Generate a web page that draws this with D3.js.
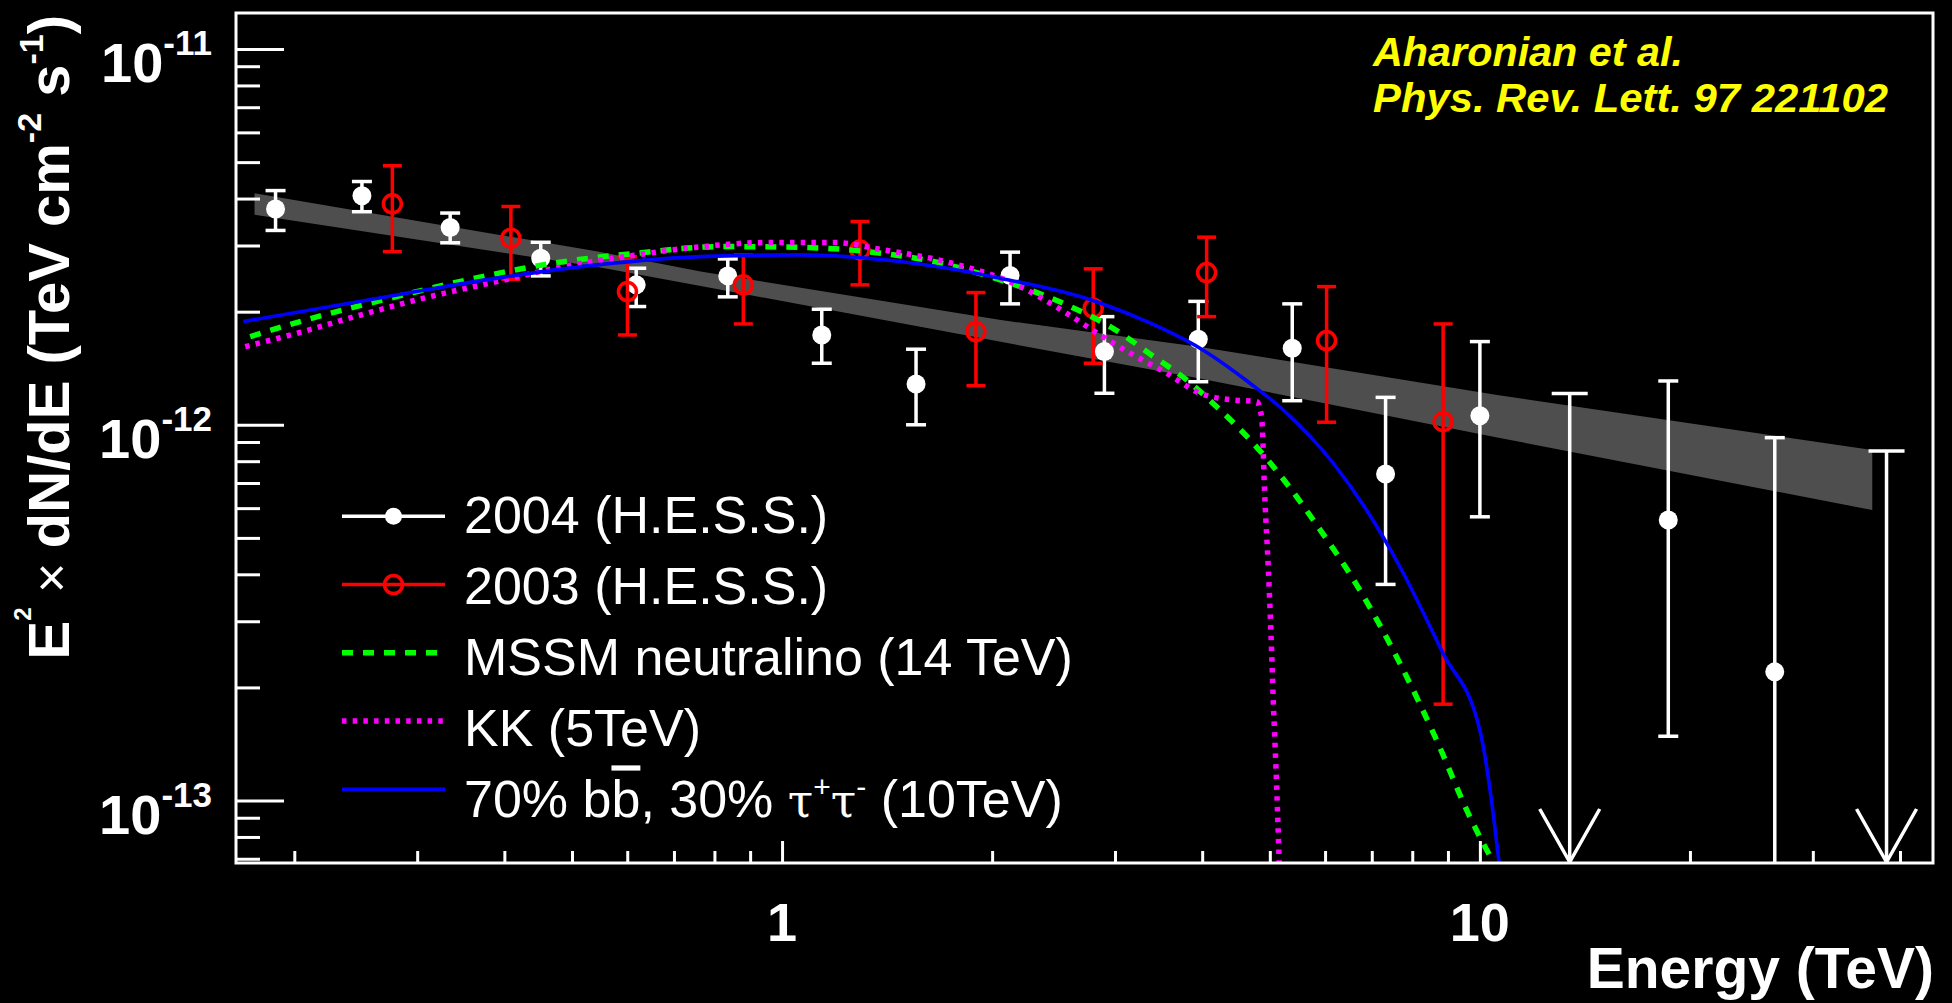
<!DOCTYPE html>
<html>
<head>
<meta charset="utf-8">
<title>Galactic Centre gamma-ray spectrum and dark-matter models</title>
<script src="https://cdn.jsdelivr.net/npm/d3@7/dist/d3.min.js"></script>
<style>
  html, body { margin: 0; padding: 0; background: #000; }
  svg { display: block; }
</style>
</head>
<body>
<svg id="chart" width="1952" height="1003"></svg>
<script>
// ---------- data ----------
// H.E.S.S. 2004: energy (TeV), E^2 dN/dE (TeV cm^-2 s^-1) and error-bar ends
const energy2004 = [0.188, 0.250, 0.3345, 0.451, 0.618, 0.836, 1.14, 1.556, 2.122, 2.897, 3.949, 5.384, 7.326, 10.0, 18.62, 26.46];
const flux2004   = [3.75e-12, 4.07e-12, 3.35e-12, 2.775e-12, 2.357e-12, 2.49e-12, 1.734e-12, 1.284e-12, 2.497e-12, 1.566e-12, 1.689e-12, 1.598e-12, 7.40e-13, 1.057e-12, 5.58e-13, 2.20e-13];
const low2004    = [3.29e-12, 3.69e-12, 3.05e-12, 2.49e-12, 2.064e-12, 2.19e-12, 1.458e-12, 1.00e-12, 2.098e-12, 1.213e-12, 1.302e-12, 1.159e-12, 3.76e-13, 5.69e-13, 1.483e-13, 0];
const high2004   = [4.20e-12, 4.44e-12, 3.66e-12, 3.06e-12, 2.61e-12, 2.763e-12, 2.03e-12, 1.589e-12, 2.88e-12, 1.94e-12, 2.13e-12, 2.098e-12, 1.183e-12, 1.665e-12, 1.308e-12, 9.24e-13];
// H.E.S.S. 2004 upper limits
const ulEnergy2004 = [13.45, 38.26];
const ulFlux2004   = [1.211e-12, 8.51e-13];

// H.E.S.S. 2003
const energy2003 = [0.2764, 0.4087, 0.6004, 0.880, 1.293, 1.896, 2.792, 4.059, 6.03, 8.858];
const flux2003   = [3.873e-12, 3.138e-12, 2.262e-12, 2.357e-12, 2.92e-12, 1.77e-12, 2.043e-12, 2.541e-12, 1.675e-12, 1.019e-12];
const low2003    = [2.89e-12, 2.44e-12, 1.734e-12, 1.855e-12, 2.357e-12, 1.271e-12, 1.458e-12, 1.94e-12, 1.016e-12, 1.805e-13];
const high2003   = [4.89e-12, 3.81e-12, 2.80e-12, 2.83e-12, 3.475e-12, 2.248e-12, 2.60e-12, 3.157e-12, 2.332e-12, 1.855e-12];

// power-law fit band
const bandEnergy = [0.1754, 0.5445, 0.7645, 2.048, 3.952, 10.59, 36.5];
const bandLow    = [3.62e-12, 2.63e-12, 2.342e-12, 1.665e-12, 1.33e-12, 9.25e-13, 5.93e-13];
const bandHigh   = [4.134e-12, 2.89e-12, 2.557e-12, 1.902e-12, 1.614e-12, 1.2e-12, 8.57e-13];

// MSSM neutralino, 14 TeV
const mssmEnergy = [0.1729, 0.2096, 0.2744, 0.3573, 0.4703, 0.6192, 0.815, 1.061, 1.322, 1.647, 2.053, 2.558, 3.017, 3.367, 3.80, 4.196, 4.733, 5.286, 5.77, 6.73, 7.68, 8.67, 9.676, 10.62];
const mssmFlux   = [1.717e-12, 1.91e-12, 2.172e-12, 2.44e-12, 2.692e-12, 2.862e-12, 2.98e-12, 2.966e-12, 2.891e-12, 2.719e-12, 2.43e-12, 2.085e-12, 1.78e-12, 1.543e-12, 1.316e-12, 1.117e-12, 8.93e-13, 6.98e-13, 5.58e-13, 3.63e-13, 2.32e-13, 1.447e-13, 9.04e-14, 6.5e-14];

// Kaluza-Klein particle, 5 TeV
const kkEnergy = [0.1701, 0.2017, 0.2512, 0.3131, 0.3902, 0.4861, 0.6057, 0.7547, 0.9508, 1.184, 1.397, 1.741, 2.169, 2.558, 2.855, 3.187, 3.557, 3.971, 4.433, 4.787, 4.866, 4.920, 4.974, 5.019, 5.057, 5.102, 5.17];
const kkFlux   = [1.614e-12, 1.752e-12, 1.969e-12, 2.194e-12, 2.404e-12, 2.636e-12, 2.815e-12, 2.97e-12, 3.055e-12, 3.055e-12, 2.92e-12, 2.70e-12, 2.357e-12, 1.98e-12, 1.734e-12, 1.534e-12, 1.372e-12, 1.213e-12, 1.164e-12, 1.152e-12, 1.051e-12, 6.30e-13, 4.19e-13, 2.785e-13, 1.85e-13, 1.229e-13, 6.0e-14];

// 70% b-bbar, 30% tau+tau-, 10 TeV
const bbEnergy = [0.1691, 0.2805, 0.3902, 0.5427, 0.7632, 1.061, 1.476, 2.053, 2.855, 3.367, 3.971, 4.683, 5.227, 6.165, 6.88, 7.68, 8.858, 10.0, 10.8];
const bbFlux   = [1.882e-12, 2.216e-12, 2.456e-12, 2.664e-12, 2.803e-12, 2.832e-12, 2.719e-12, 2.456e-12, 2.11e-12, 1.866e-12, 1.598e-12, 1.29e-12, 1.095e-12, 7.90e-13, 5.93e-13, 4.19e-13, 2.462e-13, 1.538e-13, 5.5e-14];

// axis ticks
const xMajorTicks = [1, 10];
const xMinorTicks = [0.2, 0.3, 0.4, 0.5, 0.6, 0.7, 0.8, 0.9, 2, 3, 4, 5, 6, 7, 8, 9, 20, 30, 40];
const xTickLabels = ["1", "10"];
const yMajorTicks = [1e-11, 1e-12, 1e-13];
const yMinorTicks = [7e-14, 8e-14, 9e-14,
  2e-13, 3e-13, 4e-13, 5e-13, 6e-13, 7e-13, 8e-13, 9e-13,
  2e-12, 3e-12, 4e-12, 5e-12, 6e-12, 7e-12, 8e-12, 9e-12];

const legendLabels = ["2004 (H.E.S.S.)", "2003 (H.E.S.S.)", "MSSM neutralino (14 TeV)", "KK (5TeV)"];
const noteLines = ["Aharonian et al.", "Phys. Rev. Lett. 97 221102"];

// ---------- layout ----------
const FONT = "'Liberation Sans', Arial, Helvetica, sans-serif";
const frame = { left: 236, right: 1933, top: 13, bottom: 863 };

const svg = d3.select("#chart");
svg.append("rect").attr("width", 1952).attr("height", 1003).attr("fill", "#000");

const x = d3.scaleLog().domain([0.165, 44.6]).range([frame.left, frame.right]);
const y = d3.scaleLog().domain([6.82e-14, 1.247e-11]).range([frame.bottom, frame.top]);
const yFloor = y.domain()[0];
const yc = v => y(Math.max(v, yFloor * 0.5));

svg.append("clipPath").attr("id", "plotClip")
  .append("rect")
  .attr("x", frame.left).attr("y", frame.top)
  .attr("width", frame.right - frame.left).attr("height", frame.bottom - frame.top);

const plot = svg.append("g").attr("clip-path", "url(#plotClip)");

// fit band
const bandRows = bandEnergy.map((e, i) => ({ e, lo: bandLow[i], hi: bandHigh[i] }));
plot.append("path")
  .datum(bandRows)
  .attr("fill", "#4e4e4e")
  .attr("d", d3.area().x(d => x(d.e)).y0(d => y(d.lo)).y1(d => y(d.hi)));

// ---------- 2004 points ----------
const rows2004 = energy2004.map((e, i) => ({ e, v: flux2004[i], lo: low2004[i], hi: high2004[i] }));
const g04 = plot.append("g").attr("stroke", "#fff").attr("stroke-width", 3.5);
g04.selectAll("line.bar").data(rows2004).join("line").attr("class", "bar")
  .attr("x1", d => x(d.e)).attr("x2", d => x(d.e))
  .attr("y1", d => yc(d.lo)).attr("y2", d => y(d.hi));
g04.selectAll("line.capHi").data(rows2004).join("line").attr("class", "capHi")
  .attr("x1", d => x(d.e) - 10).attr("x2", d => x(d.e) + 10)
  .attr("y1", d => y(d.hi)).attr("y2", d => y(d.hi));
g04.selectAll("line.capLo").data(rows2004.filter(d => d.lo > yFloor)).join("line").attr("class", "capLo")
  .attr("x1", d => x(d.e) - 10).attr("x2", d => x(d.e) + 10)
  .attr("y1", d => y(d.lo)).attr("y2", d => y(d.lo));
plot.append("g").selectAll("circle").data(rows2004).join("circle")
  .attr("cx", d => x(d.e)).attr("cy", d => y(d.v)).attr("r", 9.5).attr("fill", "#fff");

// upper limits
const ulRows = ulEnergy2004.map((e, i) => ({ e, v: ulFlux2004[i] }));
const gul = plot.append("g").attr("stroke", "#fff").attr("stroke-width", 3.5).attr("fill", "none");
gul.selectAll("line.ul").data(ulRows).join("line").attr("class", "ul")
  .attr("x1", d => x(d.e)).attr("x2", d => x(d.e))
  .attr("y1", d => y(d.v)).attr("y2", y(yFloor));
gul.selectAll("line.ulcap").data(ulRows).join("line").attr("class", "ulcap")
  .attr("x1", d => x(d.e) - 18).attr("x2", d => x(d.e) + 18)
  .attr("y1", d => y(d.v)).attr("y2", d => y(d.v));
gul.selectAll("path.head").data(ulRows).join("path").attr("class", "head")
  .attr("d", d => {
    const cx = x(d.e), tip = y(yFloor) - 1;
    return `M${cx - 30},${tip - 53}L${cx},${tip}L${cx + 30},${tip - 53}`;
  });

// ---------- 2003 points ----------
const rows2003 = energy2003.map((e, i) => ({ e, v: flux2003[i], lo: low2003[i], hi: high2003[i] }));
const g03 = plot.append("g").attr("stroke", "#ff0000").attr("stroke-width", 3.5).attr("fill", "none");
g03.selectAll("line.bar").data(rows2003).join("line").attr("class", "bar")
  .attr("x1", d => x(d.e)).attr("x2", d => x(d.e))
  .attr("y1", d => y(d.lo)).attr("y2", d => y(d.hi));
g03.selectAll("line.capHi").data(rows2003).join("line").attr("class", "capHi")
  .attr("x1", d => x(d.e) - 9.5).attr("x2", d => x(d.e) + 9.5)
  .attr("y1", d => y(d.hi)).attr("y2", d => y(d.hi));
g03.selectAll("line.capLo").data(rows2003).join("line").attr("class", "capLo")
  .attr("x1", d => x(d.e) - 9.5).attr("x2", d => x(d.e) + 9.5)
  .attr("y1", d => y(d.lo)).attr("y2", d => y(d.lo));
g03.selectAll("circle").data(rows2003).join("circle")
  .attr("cx", d => x(d.e)).attr("cy", d => y(d.v)).attr("r", 9);

// ---------- model curves ----------
const curve = d3.line().x(d => x(d.e)).y(d => y(d.v)).curve(d3.curveMonotoneX);
const toRows = (es, vs) => es.map((e, i) => ({ e, v: vs[i] }));

const styles = {
  mssm: { stroke: "#00ff00", width: 5.5, dash: "11 10" },
  kk:   { stroke: "#ff00ff", width: 5.5, dash: "4.5 6.2" },
  bb:   { stroke: "#0000ff", width: 3.6, dash: null }
};

function drawCurve(rows, st) {
  plot.append("path").datum(rows)
    .attr("fill", "none")
    .attr("stroke", st.stroke)
    .attr("stroke-width", st.width)
    .attr("stroke-dasharray", st.dash)
    .attr("d", curve);
}
drawCurve(toRows(mssmEnergy, mssmFlux), styles.mssm);
drawCurve(toRows(kkEnergy, kkFlux), styles.kk);
drawCurve(toRows(bbEnergy, bbFlux), styles.bb);

// ---------- frame and axes ----------
function styleAxis(g) {
  g.select(".domain").remove();
  g.selectAll(".tick line").attr("stroke", "#fff").attr("stroke-width", 3);
  g.selectAll(".tick text").remove();
}
svg.append("g").attr("transform", `translate(${frame.left},0)`)
  .call(d3.axisLeft(y).tickValues(yMajorTicks).tickSize(-48).tickFormat(""))
  .call(styleAxis);
svg.append("g").attr("transform", `translate(${frame.left},0)`)
  .call(d3.axisLeft(y).tickValues(yMinorTicks).tickSize(-24).tickFormat(""))
  .call(styleAxis);
svg.append("g").attr("transform", `translate(0,${frame.bottom})`)
  .call(d3.axisBottom(x).tickValues(xMajorTicks).tickSize(-22).tickFormat(""))
  .call(styleAxis);
svg.append("g").attr("transform", `translate(0,${frame.bottom})`)
  .call(d3.axisBottom(x).tickValues(xMinorTicks).tickSize(-12).tickFormat(""))
  .call(styleAxis);

svg.append("rect")
  .attr("x", frame.left).attr("y", frame.top)
  .attr("width", frame.right - frame.left).attr("height", frame.bottom - frame.top)
  .attr("fill", "none").attr("stroke", "#fff").attr("stroke-width", 3);

// x tick labels
svg.append("g").selectAll("text").data(xMajorTicks).join("text")
  .attr("x", d => x(d)).attr("y", frame.bottom + 78)
  .attr("text-anchor", "middle")
  .attr("font-family", FONT).attr("font-weight", "bold").attr("font-size", 54)
  .attr("fill", "#fff")
  .text((d, i) => xTickLabels[i]);

// y tick labels: 10 with a superscript exponent
yMajorTicks.forEach(v => {
  const t = svg.append("text")
    .attr("x", 212).attr("y", y(v) + 33)
    .attr("text-anchor", "end")
    .attr("font-family", FONT).attr("font-weight", "bold").attr("font-size", 56)
    .attr("fill", "#fff");
  t.append("tspan").text("10");
  t.append("tspan").attr("dy", -27).attr("font-size", 35)
    .text(String(Math.round(Math.log10(v))));
});

// axis titles
svg.append("text")
  .attr("x", 1934).attr("y", 988)
  .attr("text-anchor", "end")
  .attr("font-family", FONT).attr("font-weight", "bold").attr("font-size", 57)
  .attr("fill", "#fff")
  .text("Energy (TeV)");

const yt = svg.append("text")
  .attr("transform", "translate(69,15) rotate(-90)")
  .attr("text-anchor", "end")
  .attr("font-family", FONT).attr("font-weight", "bold").attr("font-size", 58)
  .attr("fill", "#fff");
yt.append("tspan").text("E");
yt.append("tspan").attr("dy", -38).attr("font-size", 24).text("2");
yt.append("tspan").attr("dy", 38).attr("font-weight", "normal").attr("font-size", 52).text(" \u00d7 ");
yt.append("tspan").text("dN/dE (TeV cm");
yt.append("tspan").attr("dy", -28).attr("font-size", 34).text("-2");
yt.append("tspan").attr("dy", 28).text(" s");
yt.append("tspan").attr("dy", -26).attr("font-size", 34).text("-1");
yt.append("tspan").attr("dy", 26).text(")");

// reference note, two lines
const note = svg.append("g")
  .attr("font-family", FONT).attr("font-weight", "bold").attr("font-style", "italic")
  .attr("font-size", 40).attr("fill", "#ffff00");
note.append("text").attr("x", 1373).attr("y", 66)
  .attr("textLength", 310).attr("lengthAdjust", "spacingAndGlyphs")
  .text(noteLines[0]);
note.append("text").attr("x", 1373).attr("y", 112)
  .attr("textLength", 515).attr("lengthAdjust", "spacingAndGlyphs")
  .text(noteLines[1]);

// ---------- legend ----------
const leg = { x1: 342, x2: 445, textX: 464, lineY0: 516.3, lineStep: 68.25, textY0: 533, textStep: 71.1 };
const lineY = i => leg.lineY0 + i * leg.lineStep;
const textY = i => leg.textY0 + i * leg.textStep;
const midX = (leg.x1 + leg.x2) / 2;
const lg = svg.append("g");

// row 0: 2004
lg.append("line").attr("x1", leg.x1).attr("x2", leg.x2).attr("y1", lineY(0)).attr("y2", lineY(0))
  .attr("stroke", "#fff").attr("stroke-width", 3.5);
lg.append("circle").attr("cx", midX).attr("cy", lineY(0)).attr("r", 8.5).attr("fill", "#fff");
// row 1: 2003
lg.append("line").attr("x1", leg.x1).attr("x2", leg.x2).attr("y1", lineY(1)).attr("y2", lineY(1))
  .attr("stroke", "#ff0000").attr("stroke-width", 3.5);
lg.append("circle").attr("cx", midX).attr("cy", lineY(1)).attr("r", 9)
  .attr("fill", "none").attr("stroke", "#ff0000").attr("stroke-width", 3.5);
// rows 2-4: model curves
[styles.mssm, styles.kk, styles.bb].forEach((st, k) => {
  const i = k + 2;
  lg.append("line").attr("x1", leg.x1).attr("x2", leg.x2).attr("y1", lineY(i)).attr("y2", lineY(i))
    .attr("stroke", st.stroke).attr("stroke-width", st.width).attr("stroke-dasharray", st.dash);
});

legendLabels.forEach((label, i) => {
  lg.append("text").attr("x", leg.textX).attr("y", textY(i))
    .attr("font-family", FONT).attr("font-size", 52).attr("fill", "#fff")
    .text(label);
});
const bbText = lg.append("text").attr("x", leg.textX).attr("y", textY(4))
  .attr("font-family", FONT).attr("font-size", 52).attr("fill", "#fff");
bbText.append("tspan").text("70% b");
bbText.append("tspan").style("text-decoration", "overline").text("b");
bbText.append("tspan").text(", 30% ");
bbText.append("tspan").attr("font-family", "'DejaVu Serif', 'Liberation Serif', serif").attr("font-size", 46).text("\u03c4");
bbText.append("tspan").attr("dy", -20).attr("font-size", 30).text("+");
bbText.append("tspan").attr("dy", 20).attr("font-family", "'DejaVu Serif', 'Liberation Serif', serif").attr("font-size", 46).text("\u03c4");
bbText.append("tspan").attr("dy", -20).attr("font-size", 30).text("-");
bbText.append("tspan").attr("dy", 20).text(" (10TeV)");
</script>
</body>
</html>
